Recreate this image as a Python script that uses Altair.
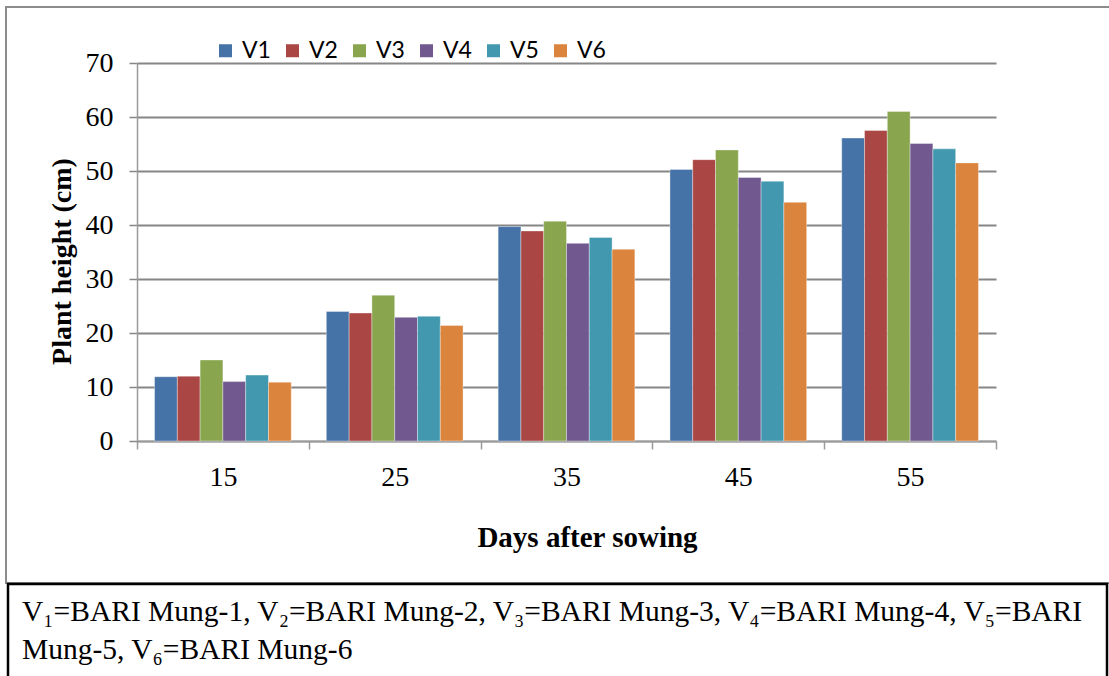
import altair as alt
import pandas as pd

days = ["15", "25", "35", "45", "55"]
varieties = ["V1", "V2", "V3", "V4", "V5", "V6"]
v1 = [11.9, 24.0, 39.7, 50.3, 56.1]
v2 = [12.0, 23.7, 38.9, 52.1, 57.5]
v3 = [15.0, 27.0, 40.7, 53.9, 61.0]
v4 = [11.0, 22.9, 36.6, 48.8, 55.1]
v5 = [12.2, 23.1, 37.7, 48.1, 54.1]
v6 = [10.9, 21.4, 35.5, 44.2, 51.5]
colors = ["#4572A7", "#AA4643", "#89A54E", "#71588F", "#4198AF", "#DB843D"]
caption_lines = [
    "V\u2081=BARI Mung-1, V\u2082=BARI Mung-2, V\u2083=BARI Mung-3, V\u2084=BARI Mung-4, V\u2085=BARI",
    "Mung-5, V\u2086=BARI Mung-6",
]

series = [v1, v2, v3, v4, v5, v6]
rows = []
for name, vals in zip(varieties, series):
    for d, h in zip(days, vals):
        rows.append({"day": d, "variety": name, "height": h})
df = pd.DataFrame(rows)

SERIF = "Liberation Serif"
GRAY = "#868686"

bars = alt.Chart(df).mark_bar(stroke="#ffffff", strokeWidth=0.6, strokeOpacity=0.6).encode(
    x=alt.X(
        "day:N",
        sort=days,
        scale=alt.Scale(paddingInner=0, paddingOuter=0),
        axis=alt.Axis(
            title="Days after sowing",
            titleFont=SERIF,
            titleFontSize=29,
            titleFontWeight="bold",
            titleColor="black",
            titleX=450,
            titleY=105,
            titleAlign="center",
            titleBaseline="alphabetic",
            labelFont=SERIF,
            labelFontSize=28,
            labelColor="black",
            labelAngle=0,
            labelPadding=14,
            tickBand="extent",
            tickSize=8,
            tickColor="#9a9a9a",
            tickWidth=1.5,
            domainColor="#9a9a9a",
            domainWidth=1.5,
            grid=False,
        ),
    ),
    xOffset=alt.XOffset(
        "variety:N",
        sort=varieties,
        scale=alt.Scale(paddingInner=0, paddingOuter=0.77),
    ),
    y=alt.Y(
        "height:Q",
        scale=alt.Scale(domain=[0, 70], nice=False),
        axis=alt.Axis(
            title="Plant height (cm)",
            values=list(range(0, 71, 10)),
            titleFont=SERIF,
            titleFontSize=28,
            titleFontWeight="bold",
            titleColor="black",
            titleAngle=270,
            titleX=-67,
            titleY=198,
            titleAlign="center",
            titleBaseline="alphabetic",
            labelFont=SERIF,
            labelFontSize=28,
            labelColor="black",
            labelPadding=16,
            tickSize=8,
            tickColor=GRAY,
            tickWidth=1.5,
            domainColor="#9a9a9a",
            domainWidth=1.5,
            grid=True,
            gridColor=GRAY,
            gridWidth=2,
        ),
    ),
    color=alt.Color(
        "variety:N",
        sort=varieties,
        scale=alt.Scale(domain=varieties, range=colors),
        legend=alt.Legend(
            title=None,
            orient="none",
            direction="horizontal",
            legendX=77,
            legendY=-24,
            symbolType="square",
            symbolSize=169,
            symbolStrokeWidth=0,
            symbolOpacity=1,
            labelFont="Lato",
            labelFontSize=23,
            labelFontWeight="normal",
            labelColor="black",
            labelOffset=5,
            columnPadding=10,
        ),
    ),
)

one = alt.Data(values=[{"k": 1}])

outer = alt.Chart(one).mark_rect(fill=None, stroke="#8c8c8c", strokeWidth=2).encode(
    x=alt.value(-131), x2=alt.value(980), y=alt.value(-56), y2=alt.value(520)
)

cap_box = alt.Chart(one).mark_rect(fill="white", stroke="black", strokeWidth=2.5).encode(
    x=alt.value(-129), x2=alt.value(970), y=alt.value(521), y2=alt.value(620)
)

cap_text = alt.Chart(one).mark_text(
    align="left",
    baseline="alphabetic",
    font=SERIF,
    fontSize=29.5,
    color="black",
    lineBreak="\n",
    lineHeight=38,
).encode(
    x=alt.value(-115),
    y=alt.value(558),
    text=alt.value("\n".join(caption_lines)),
)

chart = alt.layer(outer, bars, cap_box, cap_text).properties(
    width=859,
    height=378,
    padding={"left": 137, "top": 63, "right": 113, "bottom": 235},
    autosize=alt.AutoSizeParams(type="none"),
    background="white",
).configure_view(stroke=None)

chart.save("out.html", embed_options={"renderer": "svg", "actions": False})
